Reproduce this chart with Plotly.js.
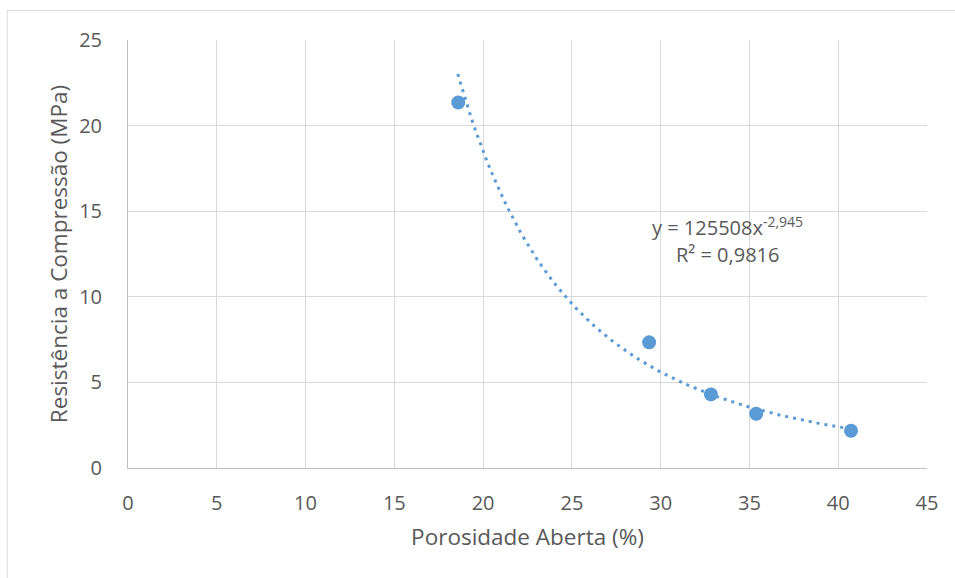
<!DOCTYPE html>
<html>
<head>
<meta charset="utf-8">
<script src="https://cdn.plot.ly/plotly-3.0.1.min.js"></script>
<style>
html,body{margin:0;padding:0;background:#fff;}
#chart{width:955px;height:578px;}
</style>
</head>
<body>
<div id="chart"></div>
<script>
// Data
const porosity = [18.6, 29.35, 32.83, 35.38, 40.72];
const strength = [21.35, 7.34, 4.3, 3.17, 2.18];
// Power trendline shown on the chart: y = 125508 x^-2.945
const trendCoef = 125508;
const trendExp = -2.945;
const trendStart = 18.57;
const trendEnd = 40.75;
const xTicks = [0, 5, 10, 15, 20, 25, 30, 35, 40, 45];
const yTicks = [0, 5, 10, 15, 20, 25];
const xTitle = 'Porosidade Aberta (%)';
const yTitle = 'Resistência a Compressão (MPa)';
const eqText = 'y = 125508x<sup>-2,945</sup>';
const r2Text = 'R² = 0,9816';

const tx = [], ty = [];
const nT = 120;
for (let i = 0; i <= nT; i++) {
  const x = trendStart + (trendEnd - trendStart) * i / nT;
  tx.push(x);
  ty.push(trendCoef * Math.pow(x, trendExp));
}

const blue = '#5b9bd5';
const font = 'Open Sans, Liberation Sans, sans-serif';
const grey = '#595959';

const traces = [
  {x: tx, y: ty, mode: 'lines', type: 'scatter', hoverinfo: 'skip',
   line: {color: blue, width: 3, dash: '3px,5px'}},
  {x: porosity, y: strength, mode: 'markers', type: 'scatter',
   marker: {color: blue, size: 14}}
];

const L = 128.3, R = 28.3, T = 40, B = 110;
const W = 955, H = 578;
const pw = W - L - R, ph = H - T - B;
const px = p => (p - L) / pw;
const py = p => (H - B - p) / ph;

const layout = {
  width: W, height: H,
  margin: {l: L, r: R, t: T, b: B},
  paper_bgcolor: '#fff', plot_bgcolor: '#fff',
  showlegend: false,
  font: {family: font, color: grey, size: 20},
  xaxis: {
    range: [0, 45], tickvals: xTicks, ticktext: xTicks.map(String),
    showgrid: true, gridcolor: '#d9d9d9', gridwidth: 1,
    showline: true, linecolor: '#bfbfbf', linewidth: 1, mirror: false,
    zeroline: false, ticks: '', ticklabelstandoff: 17,
    tickfont: {size: 20, color: grey, family: font},
    title: {text: xTitle, font: {size: 22.5, color: grey, family: font}, standoff: 14},
    automargin: false, fixedrange: true
  },
  yaxis: {
    range: [0, 25], tickvals: yTicks, ticktext: yTicks.map(String),
    showgrid: true, gridcolor: '#d9d9d9', gridwidth: 1,
    showline: true, linecolor: '#bfbfbf', linewidth: 1,
    zeroline: false, ticks: '', ticklabelstandoff: 21,
    tickfont: {size: 20, color: grey, family: font},
    title: {text: yTitle, font: {size: 22.5, color: grey, family: font}, standoff: 5},
    automargin: false, fixedrange: true
  },
  annotations: [
    {x: 33.75, y: 14.1, xref: 'x', yref: 'y', text: eqText, showarrow: false,
     font: {size: 20, color: grey, family: font}, xanchor: 'center', yanchor: 'middle'},
    {x: 33.75, y: 12.5, xref: 'x', yref: 'y', text: r2Text, showarrow: false,
     font: {size: 20, color: grey, family: font}, xanchor: 'center', yanchor: 'middle'}
  ],
  shapes: [
    {type: 'rect', xref: 'paper', yref: 'paper', layer: 'below',
     x0: px(7.5), x1: px(962), y0: py(590), y1: py(10.5),
     line: {color: '#d9d9d9', width: 1}, fillcolor: 'rgba(0,0,0,0)'}
  ]
};

Plotly.newPlot('chart', traces, layout, {displayModeBar: false, staticPlot: true});
</script>
</body>
</html>
